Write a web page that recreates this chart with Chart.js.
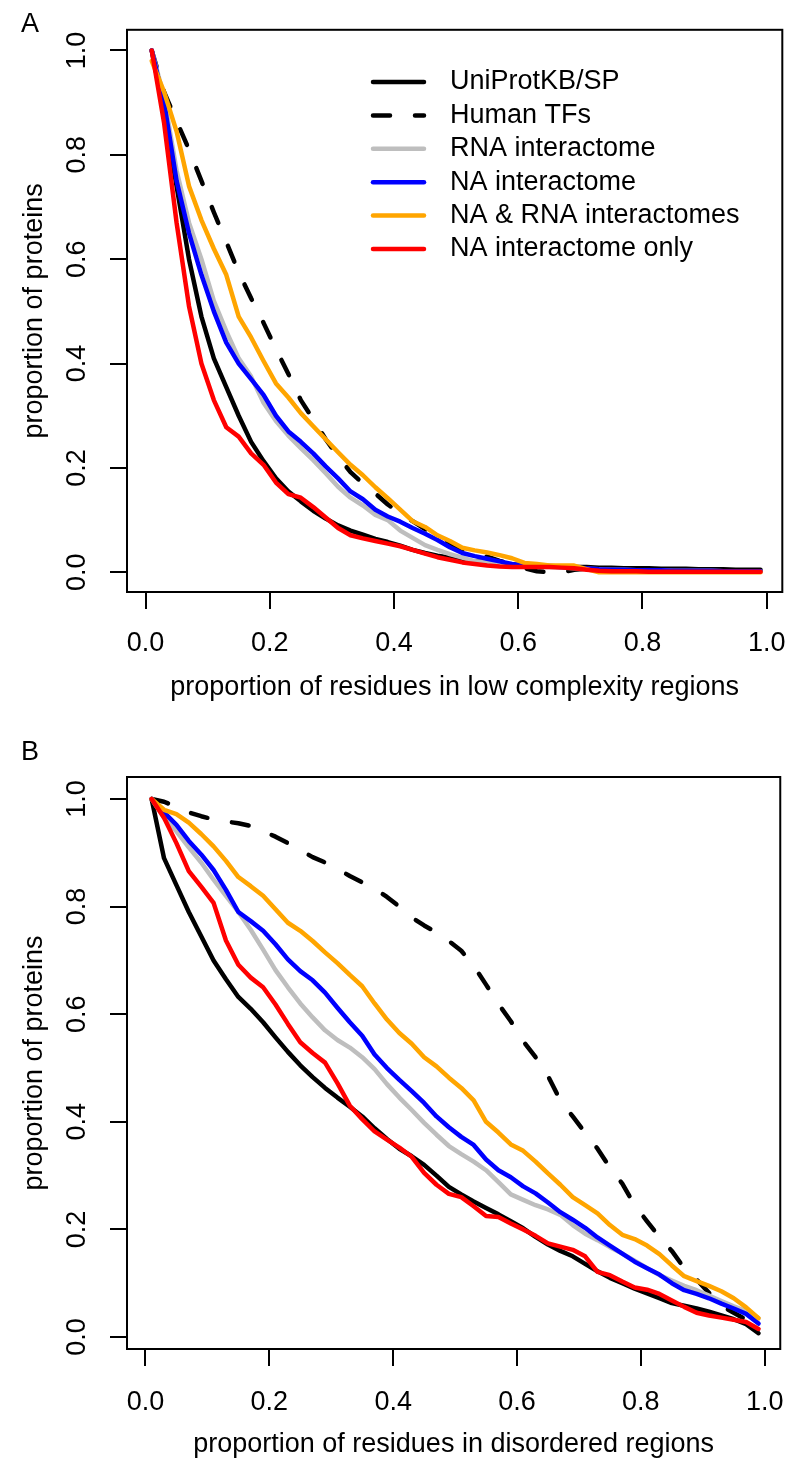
<!DOCTYPE html>
<html>
<head>
<meta charset="utf-8">
<script src="https://cdn.jsdelivr.net/npm/chart.js@4.4.1/dist/chart.umd.min.js"></script>
<style>
  html, body { margin: 0; padding: 0; background: #fff; }
  #wrap { position: relative; width: 804px; height: 1461px; }
  #wrap canvas { position: absolute; left: 0; }
  #panelA { top: 0; }
  #panelB { top: 731px; }
</style>
</head>
<body>
<div id="wrap">
  <canvas id="panelA" width="804" height="731"></canvas>
  <canvas id="panelB" width="804" height="730"></canvas>
</div>
<script>
// x positions of the points (proportion of residues)
const xProp = [0.01, 0.03, 0.05, 0.07, 0.09, 0.11, 0.13, 0.15, 0.17, 0.19,
               0.21, 0.23, 0.25, 0.27, 0.29, 0.31, 0.33, 0.35, 0.37, 0.39,
               0.41, 0.43, 0.45, 0.47, 0.49, 0.51, 0.53, 0.55, 0.57, 0.59,
               0.61, 0.63, 0.65, 0.67, 0.69, 0.71, 0.73, 0.75, 0.77, 0.79,
               0.81, 0.83, 0.85, 0.87, 0.89, 0.91, 0.93, 0.95, 0.97, 0.99];
const axisTicks = [0, 0.2, 0.4, 0.6, 0.8, 1.0];

const seriesNames = ['UniProtKB/SP', 'Human TFs', 'RNA interactome', 'NA interactome',
                     'NA & RNA interactomes', 'NA interactome only'];
const seriesColors = ['#000000', '#000000', '#BEBEBE', '#0000FF', '#FFA500', '#FF0000'];

// A: low complexity regions
const lcUniProt = [1.0, 0.88, 0.74, 0.60, 0.49, 0.41, 0.355, 0.30, 0.25, 0.213,
                   0.18, 0.155, 0.136, 0.118, 0.103, 0.090, 0.080, 0.072, 0.064, 0.058,
                   0.051, 0.043, 0.037, 0.032, 0.028, 0.024, 0.021, 0.019, 0.017, 0.015,
                   0.014, 0.013, 0.012, 0.011, 0.010, 0.010, 0.009, 0.009, 0.008, 0.008,
                   0.008, 0.007, 0.007, 0.007, 0.006, 0.006, 0.006, 0.005, 0.005, 0.005];
const lcHumanTF = [1.0, 0.92, 0.865, 0.81, 0.75, 0.69, 0.633, 0.575, 0.525, 0.478,
                   0.428, 0.38, 0.33, 0.293, 0.255, 0.222, 0.192, 0.170, 0.151, 0.13,
                   0.113, 0.098, 0.083, 0.068, 0.055, 0.045, 0.038, 0.03, 0.022, 0.015,
                   0.008, 0.002, 0.0, 0.0, 0.005, 0.007, 0.006, 0.006, 0.005, 0.005,
                   0.005, 0.005, 0.004, 0.004, 0.004, 0.004, 0.004, 0.003, 0.003, 0.003];
const lcRNA = [1.0, 0.91, 0.77, 0.67, 0.60, 0.52, 0.462, 0.41, 0.375, 0.325,
               0.29, 0.262, 0.238, 0.215, 0.19, 0.164, 0.143, 0.128, 0.11, 0.10,
               0.08, 0.066, 0.052, 0.043, 0.035, 0.028, 0.021, 0.019, 0.017, 0.015,
               0.013, 0.011, 0.010, 0.009, 0.008, 0.007, 0.006, 0.005, 0.005, 0.004,
               0.004, 0.004, 0.003, 0.003, 0.003, 0.003, 0.002, 0.002, 0.002, 0.002];
const lcNA = [1.0, 0.90, 0.75, 0.65, 0.57, 0.50, 0.44, 0.40, 0.37, 0.34,
              0.30, 0.27, 0.25, 0.228, 0.203, 0.18, 0.155, 0.14, 0.12, 0.107,
              0.097, 0.085, 0.074, 0.062, 0.048, 0.037, 0.031, 0.026, 0.021, 0.016,
              0.013, 0.012, 0.011, 0.010, 0.009, 0.008, 0.006, 0.005, 0.005, 0.004,
              0.004, 0.004, 0.003, 0.003, 0.003, 0.003, 0.002, 0.002, 0.002, 0.002];
const lcNARNA = [0.98, 0.92, 0.845, 0.74, 0.675, 0.62, 0.57, 0.49, 0.45, 0.405,
                 0.362, 0.335, 0.305, 0.28, 0.255, 0.23, 0.206, 0.186, 0.163, 0.142,
                 0.12, 0.098, 0.087, 0.071, 0.060, 0.047, 0.042, 0.038, 0.033, 0.027,
                 0.018, 0.016, 0.013, 0.013, 0.013, 0.006, 0.0, 0.0, 0.0, 0.0,
                 0.0, 0.0, 0.0, 0.0, 0.0, 0.0, 0.0, 0.0, 0.0, 0.0];
const lcNAOnly = [1.0, 0.86, 0.67, 0.51, 0.40, 0.33, 0.278, 0.26, 0.228, 0.206,
                  0.172, 0.150, 0.143, 0.125, 0.105, 0.085, 0.071, 0.065, 0.060, 0.055,
                  0.05, 0.043, 0.036, 0.029, 0.024, 0.019, 0.016, 0.013, 0.011, 0.010,
                  0.010, 0.010, 0.010, 0.009, 0.008, 0.005, 0.003, 0.002, 0.002, 0.002,
                  0.001, 0.001, 0.001, 0.001, 0.001, 0.001, 0.001, 0.001, 0.001, 0.001];

// B: disordered regions
const disUniProt = [1.0, 0.89, 0.84, 0.79, 0.745, 0.70, 0.665, 0.632, 0.61, 0.585,
                    0.557, 0.53, 0.505, 0.483, 0.463, 0.445, 0.428, 0.41, 0.388, 0.368,
                    0.35, 0.336, 0.32, 0.30, 0.279, 0.265, 0.252, 0.24, 0.228, 0.215,
                    0.202, 0.186, 0.172, 0.16, 0.15, 0.136, 0.122, 0.11, 0.10, 0.09,
                    0.081, 0.072, 0.063, 0.058, 0.053, 0.047, 0.04, 0.033, 0.024, 0.007];
const disHumanTF = [1.0, 0.995, 0.985, 0.975, 0.968, 0.962, 0.958, 0.955, 0.95, 0.94,
                    0.93, 0.918, 0.905, 0.892, 0.882, 0.87, 0.857, 0.845, 0.833, 0.818,
                    0.80, 0.78, 0.765, 0.752, 0.736, 0.718, 0.69, 0.655, 0.619, 0.587,
                    0.55, 0.52, 0.485, 0.44, 0.41, 0.38, 0.35, 0.315, 0.285, 0.245,
                    0.215, 0.186, 0.16, 0.128, 0.107, 0.082, 0.058, 0.045, 0.032, 0.016];
const disRNA = [1.0, 0.965, 0.94, 0.91, 0.882, 0.85, 0.82, 0.79, 0.757, 0.72,
                0.682, 0.65, 0.62, 0.594, 0.57, 0.552, 0.538, 0.52, 0.498, 0.47,
                0.445, 0.422, 0.398, 0.376, 0.355, 0.34, 0.326, 0.31, 0.288, 0.265,
                0.255, 0.245, 0.237, 0.227, 0.208, 0.192, 0.18, 0.167, 0.155, 0.142,
                0.128, 0.115, 0.105, 0.095, 0.087, 0.077, 0.067, 0.057, 0.048, 0.035];
const disNA = [1.0, 0.975, 0.952, 0.922, 0.897, 0.868, 0.831, 0.79, 0.773, 0.755,
               0.73, 0.702, 0.68, 0.663, 0.64, 0.612, 0.585, 0.56, 0.525, 0.50,
               0.478, 0.457, 0.435, 0.41, 0.39, 0.372, 0.357, 0.33, 0.31, 0.297,
               0.28, 0.267, 0.25, 0.232, 0.218, 0.203, 0.185, 0.17, 0.155, 0.14,
               0.128, 0.116, 0.10, 0.087, 0.08, 0.072, 0.062, 0.053, 0.043, 0.025];
const disNARNA = [1.0, 0.98, 0.972, 0.956, 0.935, 0.912, 0.885, 0.855, 0.838, 0.82,
                  0.795, 0.77, 0.755, 0.736, 0.715, 0.695, 0.673, 0.652, 0.62, 0.59,
                  0.565, 0.545, 0.52, 0.503, 0.482, 0.463, 0.44, 0.40, 0.38, 0.358,
                  0.346, 0.326, 0.304, 0.283, 0.26, 0.245, 0.23, 0.208, 0.19, 0.182,
                  0.17, 0.154, 0.133, 0.113, 0.104, 0.095, 0.085, 0.072, 0.055, 0.035];
const disNAOnly = [1.0, 0.965, 0.918, 0.866, 0.837, 0.807, 0.737, 0.692, 0.668, 0.65,
                   0.618, 0.582, 0.548, 0.528, 0.51, 0.472, 0.43, 0.405, 0.382, 0.367,
                   0.352, 0.335, 0.305, 0.283, 0.266, 0.26, 0.243, 0.225, 0.223, 0.211,
                   0.20, 0.188, 0.174, 0.168, 0.162, 0.15, 0.121, 0.115, 0.103, 0.092,
                   0.088, 0.08, 0.068, 0.056, 0.045, 0.04, 0.036, 0.032, 0.028, 0.015];

const fontFamily = '"Liberation Sans", Arial, Helvetica, sans-serif';
Chart.defaults.font.family = fontFamily;
Chart.defaults.font.size = 27;
Chart.defaults.color = '#000';

const buildSets = function(list) {
	return list.map((vals, i) => ({
		label: seriesNames[i],
		data: xProp.map((x, k) => ({x: x, y: vals[k]})),
		borderColor: seriesColors[i],
		borderWidth: 4.5,
		borderDash: i === 1 ? [17, 25] : [],
		borderCapStyle: 'round',
		borderJoinStyle: 'round',
		pointRadius: 0,
		fill: false,
		tension: 0,
		order: 5 - i   // red on top, black at the bottom
	}));
};

// box around the plot, panel letter, legend inside the plot
const framePlugin = {
	id: 'frame',
	afterDraw(chart, args, opts) {
		const {ctx, chartArea: a} = chart;
		ctx.save();
		ctx.strokeStyle = '#000';
		ctx.lineWidth = 2;
		ctx.setLineDash([]);
		ctx.strokeRect(a.left, a.top, a.right - a.left, a.bottom - a.top);

		ctx.fillStyle = '#000';
		ctx.font = '27px ' + fontFamily;
		ctx.textBaseline = 'alphabetic';
		ctx.textAlign = 'left';
		ctx.fillText(opts.letter, opts.letterX, opts.letterY);

		if (opts.legend) {
			const lg = opts.legend;
			chart.data.datasets.forEach((ds, i) => {
				const y = lg.top + i * lg.step;
				ctx.strokeStyle = ds.borderColor;
				ctx.lineWidth = ds.borderWidth;
				ctx.lineCap = 'round';
				ctx.setLineDash(ds.borderDash);
				ctx.beginPath();
				ctx.moveTo(lg.lineX0 + 2, y);
				ctx.lineTo(lg.lineX1 - 2, y);
				ctx.stroke();
				ctx.setLineDash([]);
				ctx.textBaseline = 'middle';
				ctx.fillText(ds.label, lg.textX, y);
			});
		}
		ctx.restore();
	}
};

const makeScales = function(o) {
	return {
		x: {
			type: 'linear', min: -0.0298, max: 1.0251,
			afterBuildTicks: s => { s.ticks = axisTicks.map(v => ({value: v})); },
			afterFit: s => { s.height = o.xHeight; },
			grid: {drawOnChartArea: false, drawTicks: true, tickLength: 17, color: '#000', lineWidth: 2},
			border: {display: true, color: '#000', width: 2},
			ticks: {color: '#000', padding: o.xTickPad, autoSkip: false, maxRotation: 0,
			        font: {size: 27}, callback: v => v.toFixed(1)},
			title: {display: true, text: o.xTitle, color: '#000',
			        font: {size: 27, lineHeight: 1}, padding: {top: 0, bottom: o.xTitlePad}}
		},
		y: {
			type: 'linear', min: o.yMin, max: o.yMax,
			afterBuildTicks: s => { s.ticks = axisTicks.map(v => ({value: v})); },
			afterFit: s => { s.width = 127; },
			grid: {drawOnChartArea: false, drawTicks: true, tickLength: 17, color: '#000', lineWidth: 2},
			border: {display: true, color: '#000', width: 2},
			ticks: {color: '#000', padding: 13.6, autoSkip: false, minRotation: 90, maxRotation: 90,
			        crossAlign: 'center', font: {size: 27}, callback: v => v.toFixed(1)},
			title: {display: true, text: 'proportion of proteins', color: '#000',
			        font: {size: 27, lineHeight: 1}, padding: {top: 21.5, bottom: 0}}
		}
	};
};

const drawPanel = function(id, list, o) {
	return new Chart(document.getElementById(id), {
		type: 'line',
		data: {datasets: buildSets(list)},
		options: {
			responsive: false,
			animation: false,
			devicePixelRatio: 1,
			layout: {padding: {top: o.padTop, right: 5, left: 0, bottom: 0}},
			plugins: {
				legend: {display: false},
				tooltip: {enabled: false},
				frame: {letter: o.letter, letterX: 21, letterY: o.letterY, legend: o.legend}
			},
			scales: makeScales(o)
		},
		plugins: [framePlugin]
	});
};

drawPanel('panelA', [lcUniProt, lcHumanTF, lcRNA, lcNA, lcNARNA, lcNAOnly], {
	letter: 'A', letterY: 32, padTop: 20,
	yMin: -0.0377, yMax: 1.0395,
	xHeight: 139, xTickPad: 18.4, xTitlePad: 29.5,
	xTitle: 'proportion of residues in low complexity regions',
	legend: {lineX0: 371, lineX1: 426, textX: 450, top: 82, step: 33.4}
});

drawPanel('panelB', [disUniProt, disHumanTF, disRNA, disNA, disNARNA, disNAOnly], {
	letter: 'B', letterY: 29, padTop: 46,
	yMin: -0.0223, yMax: 1.0409,
	xHeight: 112, xTickPad: 20.4, xTitlePad: 2.5,
	xTitle: 'proportion of residues in disordered regions',
	legend: null
});
</script>
</body>
</html>
